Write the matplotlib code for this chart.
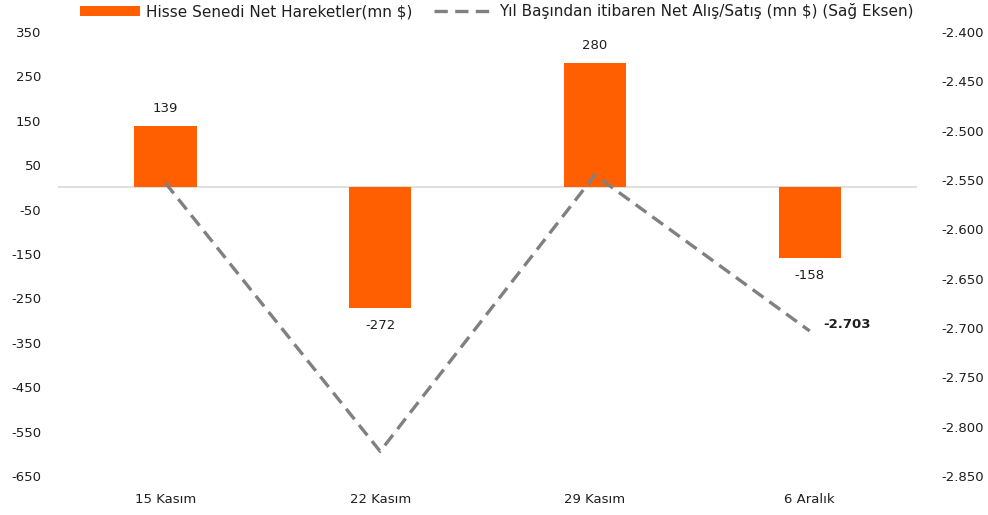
import matplotlib.pyplot as plt
import matplotlib.ticker as mticker
from matplotlib.lines import Line2D
from matplotlib.patches import Patch

categories = ["15 Kasım", "22 Kasım", "29 Kasım", "6 Aralık"]
net_moves = [139, -272, 280, -158]
ytd_net = [-2553, -2825, -2545, -2703]

BAR_COLOR = "#ff5f00"
LINE_COLOR = "#808080"
TEXT_COLOR = "#1f1f1f"
DASH = (0, (4, 2.2))

plt.rcParams["font.family"] = ["DejaVu Sans"]
plt.rcParams["font.size"] = 9
plt.rcParams["axes.unicode_minus"] = False

fig = plt.figure(figsize=(9.88, 5.15), dpi=100)
ax = fig.add_axes([0.0587, 0.0757, 0.8695, 0.8623])
ax2 = ax.twinx()

x = list(range(len(categories)))
ax.bar(x, net_moves, width=0.29, color=BAR_COLOR, zorder=2)
ax.axhline(0, color="#d9d9d9", linewidth=1.2, zorder=1)
ax.set_xlim(-0.5, len(categories) - 0.5)
ax.set_ylim(-650, 350)
ax.set_yticks(range(-650, 351, 100))

ax2.plot(x, ytd_net, color=LINE_COLOR, linestyle=DASH, linewidth=2.4, zorder=3)
ax2.set_ylim(-2850, -2400)
ax2.set_yticks(range(-2850, -2399, 50))


def tr_fmt(v, pos=None):
    return f"{v:,.0f}".replace(",", ".")


ax2.yaxis.set_major_formatter(mticker.FuncFormatter(tr_fmt))

for a in (ax, ax2):
    for s in a.spines.values():
        s.set_visible(False)
    a.tick_params(axis="both", length=0, colors=TEXT_COLOR, labelsize=9.5)

ax.set_xticks(x)
ax.set_xticklabels(categories)
ax.tick_params(axis="x", pad=12)
ax.tick_params(axis="y", pad=12)
for lbl in ax2.get_yticklabels():
    lbl.set_horizontalalignment("right")
ax2.yaxis.set_tick_params(pad=48)

for xi, v in zip(x, net_moves):
    if v >= 0:
        ax.annotate(str(v), (xi, v), xytext=(0, 8), textcoords="offset points",
                    ha="center", va="bottom", fontsize=9.5, color=TEXT_COLOR)
    else:
        ax.annotate(str(v), (xi, v), xytext=(0, -8), textcoords="offset points",
                    ha="center", va="top", fontsize=9.5, color=TEXT_COLOR)

ax2.annotate(tr_fmt(ytd_net[-1]), (x[-1], ytd_net[-1]), xytext=(10, 5),
             textcoords="offset points", ha="left", va="center",
             fontsize=9.5, fontweight="bold", color=TEXT_COLOR)

handles = [
    Patch(facecolor=BAR_COLOR, edgecolor="none"),
    Line2D([0], [0], color=LINE_COLOR, linestyle=DASH, linewidth=2.4),
]
labels = [
    "Hisse Senedi Net Hareketler(mn $)",
    "Yıl Başından itibaren Net Alış/Satış (mn $) (Sağ Eksen)",
]
fig.legend(handles, labels, loc="upper center", bbox_to_anchor=(0.503, 1.02),
           ncol=2, frameon=False, fontsize=11, handlelength=3.9,
           handletextpad=0.4, columnspacing=1.4, labelcolor=TEXT_COLOR)

fig.savefig("out.png", dpi=100)
